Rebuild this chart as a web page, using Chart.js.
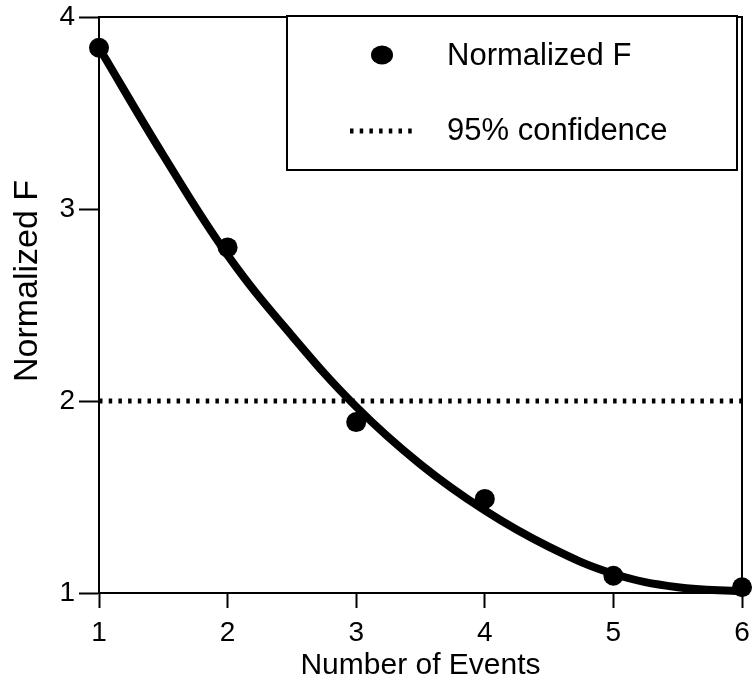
<!DOCTYPE html>
<html>
<head>
<meta charset="utf-8">
<style>
body {
  margin: 0;
  background: #fff;
}
#wrap {
  width: 753px;
  height: 684px;
}
</style>
</head>
<body>
<div id="wrap"><canvas id="myChart" width="753" height="684"></canvas></div>

<script src="https://cdn.jsdelivr.net/npm/chart.js@4.4.1/dist/chart.umd.min.js"></script>
<script>

// measured points
var eventCounts = [1, 2, 3, 4, 5, 6];
var normalizedF = [3.84, 2.80, 1.89, 1.49, 1.09, 1.03];

// fitted curve
var curveX = [1, 1.5, 2, 2.5, 3, 3.5, 4, 4.5, 5, 5.5, 6];
var curveY = [3.84, 3.28, 2.76, 2.34, 1.97, 1.67, 1.43, 1.24, 1.10, 1.03, 1.01];

// 95% confidence level
var confidenceX = [1, 6];
var confidenceY = [2, 2];

var xRange = [1, 6];
var yRange = [1, 4];

var xTitle = "Number of Events";
var yTitle = "Normalized F";

var fontFamily = '"Liberation Sans", Arial, Helvetica, sans-serif';
var dotDash = [3.5, 6.2];

Chart.defaults.font.family = fontFamily;
Chart.defaults.color = "#000";

function toPoints(xs, ys) {
    return xs.map(function(x, i) { return { x: x, y: ys[i] }; });
}

// frame round the plot, y title and the boxed legend
var extras = {
    id: "extras",
    afterDraw: function(chart) {
        var ctx = chart.ctx;
        var a = chart.chartArea;
        ctx.save();

        ctx.strokeStyle = "#000";
        ctx.lineWidth = 2;
        ctx.strokeRect(a.left, a.top, a.right - a.left, a.bottom - a.top);

        // y axis title
        ctx.save();
        ctx.translate(28, 281);
        ctx.rotate(-Math.PI / 2);
        ctx.font = "34px " + fontFamily;
        ctx.fillStyle = "#000";
        ctx.textAlign = "center";
        ctx.textBaseline = "middle";
        ctx.fillText(yTitle, 0, 0);
        ctx.restore();

        // legend box
        ctx.fillStyle = "#fff";
        ctx.fillRect(287, 16, 450, 154);
        ctx.lineWidth = 2;
        ctx.strokeRect(287, 16, 450, 154);

        var ds = chart.data.datasets;
        ctx.fillStyle = "#000";
        ctx.beginPath();
        ctx.ellipse(382, 55, 11, 9.5, 0, 0, Math.PI * 2);
        ctx.fill();

        ctx.beginPath();
        ctx.setLineDash(dotDash);
        ctx.lineWidth = 5;
        ctx.moveTo(350, 131);
        ctx.lineTo(412, 131);
        ctx.stroke();
        ctx.setLineDash([]);

        ctx.font = "31px " + fontFamily;
        ctx.textAlign = "left";
        ctx.textBaseline = "middle";
        ctx.fillText(ds[0].label, 447, 56);
        ctx.fillText(ds[2].label, 447, 131);

        ctx.restore();
    }
};

var ctx = document.getElementById("myChart").getContext("2d");
var myChart = new Chart(ctx, {
    type: "scatter",
    data: {
        datasets: [
            {
                label: "Normalized F",
                data: toPoints(eventCounts, normalizedF),
                showLine: false,
                pointRadius: 10,
                pointBackgroundColor: "#000",
                pointBorderWidth: 0,
                clip: false
            },
            {
                label: "fit",
                data: toPoints(curveX, curveY),
                showLine: true,
                borderColor: "#000",
                borderWidth: 8,
                pointRadius: 0,
                tension: 0.4,
                clip: false
            },
            {
                label: "95% confidence",
                data: toPoints(confidenceX, confidenceY),
                showLine: true,
                borderColor: "#000",
                borderWidth: 5,
                borderDash: dotDash,
                borderCapStyle: "butt",
                pointRadius: 0
            }
        ]
    },
    options: {
        responsive: false,
        animation: false,
        layout: { padding: { top: 17, right: 11, left: 0, bottom: 0 } },
        plugins: {
            legend: { display: false },
            tooltip: { enabled: false }
        },
        scales: {
            x: {
                type: "linear",
                min: xRange[0],
                max: xRange[1],
                ticks: { stepSize: 1, font: { size: 28 }, padding: 8, color: "#000" },
                grid: { drawOnChartArea: false, tickLength: 15, tickColor: "#000", tickWidth: 2 },
                border: { color: "#000", width: 2 },
                title: { display: true, text: xTitle, font: { size: 30 }, padding: 0 },
                afterFit: function(scale) {
                    scale.height = 91;
                    scale.paddingLeft = 0;
                    scale.paddingRight = 0;
                }
            },
            y: {
                type: "linear",
                min: yRange[0],
                max: yRange[1],
                ticks: { stepSize: 1, font: { size: 28 }, padding: 4, color: "#000" },
                grid: { drawOnChartArea: false, tickLength: 20, tickColor: "#000", tickWidth: 2 },
                border: { color: "#000", width: 2 },
                afterFit: function(scale) {
                    scale.width = 99;
                    scale.paddingTop = 0;
                    scale.paddingBottom = 0;
                }
            }
        }
    },
    plugins: [extras]
});
</script>
</body>
</html>
